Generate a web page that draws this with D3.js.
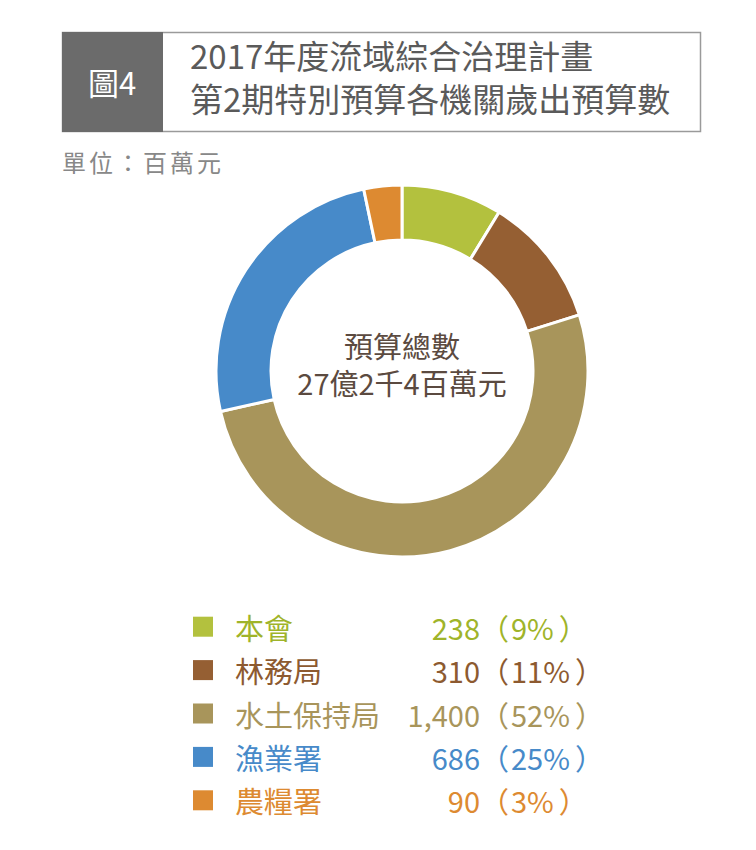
<!DOCTYPE html>
<html><head><meta charset="utf-8">
<script src="https://cdn.jsdelivr.net/npm/d3@7"></script>
<style>
body{margin:0;background:#fff;}
text{font-family:"Noto Sans CJK TC","Noto Sans",sans-serif;}
</style></head>
<body>
<svg id="chart" width="756" height="850"></svg>
<script>
const categories = ["本會","林務局","水土保持局","漁業署","農糧署"];
const values = [238, 310, 1400, 686, 90];
const valueLabels = ["238","310","1,400","686","90"];
const pctLabels = ["9%","11%","52%","25%","3%"];
const colors = ["#b3c13e","#955f33","#a8955b","#478ac9","#dd8a31"];
const textColors = ["#9fb42a","#8d5a30","#a8955b","#478ac9","#dd8a31"];
const titleLines = ["2017年度流域綜合治理計畫","第2期特別預算各機關歲出預算數"];
const centerLines = ["預算總數","27億2千4百萬元"];

const svg = d3.select("#chart");

// Title box
svg.append("rect").attr("x",62.5).attr("y",32.5).attr("width",638).attr("height",99)
  .attr("fill","#fff").attr("stroke","#9a9a9a").attr("stroke-width",1.5);
svg.append("rect").attr("x",62).attr("y",32).attr("width",101).attr("height",100).attr("fill","#6b6b6b");
svg.append("text").attr("x",112).attr("y",81).attr("text-anchor","middle").attr("dominant-baseline","central")
  .attr("fill","#fff").attr("font-size",31).text("圖4");
const title = svg.append("text").attr("fill","#5a5a5a").attr("font-size",33);
title.selectAll("tspan").data(titleLines).join("tspan")
  .attr("x",190).attr("y",(d,i)=>69+i*43).text(d=>d);

svg.append("text").attr("x",62).attr("y",161).attr("dominant-baseline","central")
  .attr("fill","#888").attr("font-size",24).attr("letter-spacing",3).text("單位：百萬元");

// Donut
const cx = 402, cy = 371, outerR = 186, innerR = 131;
const pie = d3.pie().sort(null).value(d=>d);
const arc = d3.arc().innerRadius(innerR).outerRadius(outerR);
const g = svg.append("g").attr("transform",`translate(${cx},${cy})`);
g.selectAll("path").data(pie(values)).join("path")
  .attr("d",arc).attr("fill",(d,i)=>colors[i])
  .attr("stroke","#fff").attr("stroke-width",3).attr("stroke-linejoin","round");

const center = g.append("text").attr("text-anchor","middle").attr("fill","#5b4a40").attr("font-size",29);
center.selectAll("tspan").data(centerLines).join("tspan")
  .attr("x",0).attr("y",(d,i)=>-13+i*37).text(d=>d);

// Legend
const y = d3.scaleBand().domain(categories).range([605,822]).paddingInner(0);
const rows = svg.selectAll("g.leg").data(categories).join("g").attr("class","leg")
  .attr("transform",d=>`translate(0,${y(d)+y.bandwidth()/2})`);
rows.append("rect").attr("x",193).attr("y",-10).attr("width",20).attr("height",20)
  .attr("fill",(d,i)=>colors[i]);
rows.append("text").attr("x",235).attr("dominant-baseline","central").attr("font-size",29)
  .attr("fill",(d,i)=>textColors[i]).text(d=>d);
rows.append("text").attr("x",480).attr("text-anchor","end").attr("dominant-baseline","central").attr("font-size",29)
  .attr("fill",(d,i)=>textColors[i]).text((d,i)=>valueLabels[i]);
rows.append("text").attr("x",509).attr("text-anchor","end").attr("dominant-baseline","central").attr("font-size",29)
  .attr("fill",(d,i)=>textColors[i]).text("（");
rows.each(function(d,i){
  const row = d3.select(this);
  const t = row.append("text").attr("x",511).attr("dominant-baseline","central").attr("font-size",29)
    .attr("fill",textColors[i]).text(pctLabels[i]);
  const w = t.node().getComputedTextLength();
  row.append("text").attr("x",511+w+5).attr("dominant-baseline","central").attr("font-size",29)
    .attr("fill",textColors[i]).text("）");
});
</script>
</body></html>
